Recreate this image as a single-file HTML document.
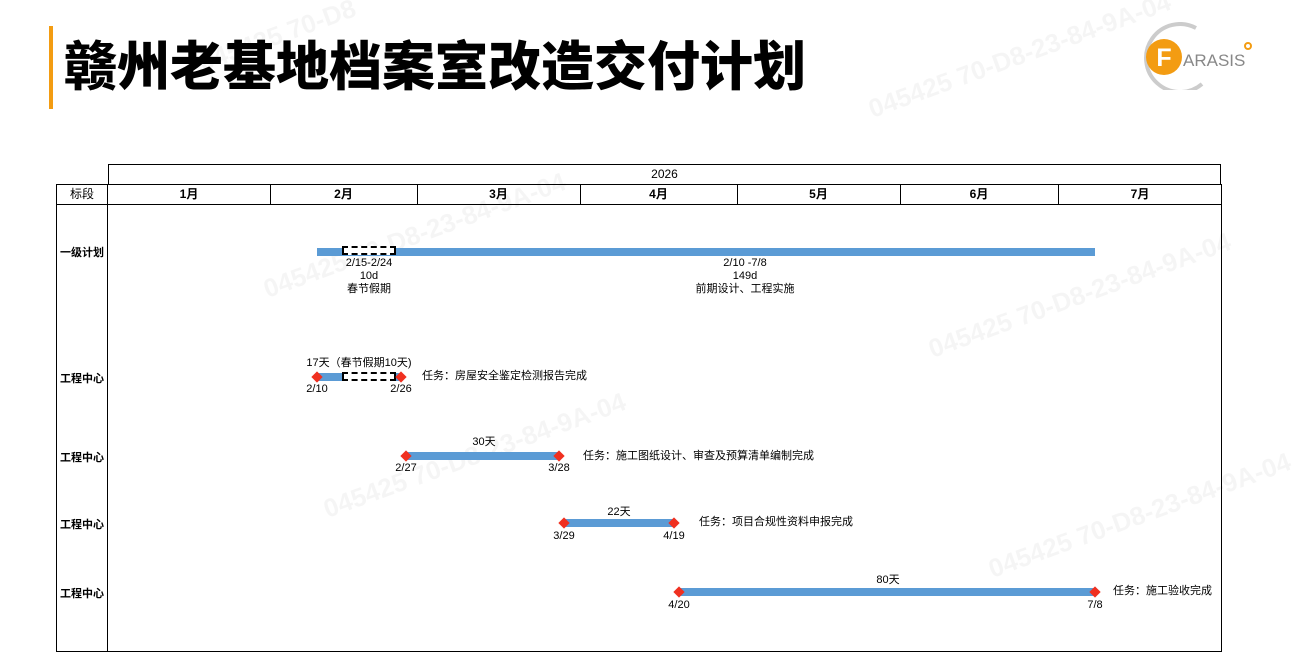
<!DOCTYPE html>
<html><head><meta charset="utf-8"><style>
body{margin:0;width:1292px;height:664px;background:#fff;position:relative;overflow:hidden;font-family:"Liberation Sans","Noto Sans CJK SC",sans-serif;color:#000}
.a{position:absolute}
.t{position:absolute;font-size:11px;white-space:nowrap;text-align:center;line-height:13px}
.l{position:absolute;font-size:11px;font-weight:bold;left:56px;width:52px;text-align:center}
.bar{position:absolute;height:8px;background:#5b9bd5}
.dash{position:absolute;height:5px;border:2px dashed #000;border-bottom-width:2px;background:#fff}
.d{position:absolute;width:8px;height:8px;background:#f03020;transform:rotate(45deg)}
.wm{position:absolute;color:rgba(0,0,0,0.04);font-size:26px;font-weight:bold;transform:rotate(-20deg);white-space:nowrap}
</style></head><body>
<div class="a" style="left:49px;top:26px;width:4px;height:83px;background:#f39c12"></div>
<div class="a" style="left:64px;top:30px;font-size:53px;font-weight:900;line-height:66px;font-family:'Noto Sans CJK SC',sans-serif;white-space:nowrap">赣州老基地档案室改造交付计划</div>
<svg class="a" style="left:1140px;top:22px" width="130" height="68">
<path d="M56 6 A34 34 0 1 0 62 62" fill="none" stroke="#ccc" stroke-width="4"/>
<circle cx="24" cy="35" r="18" fill="#f39c12"/>
<text x="24" y="44" font-size="25" font-weight="bold" fill="#fff" text-anchor="middle" font-family="Liberation Sans">F</text>
<text x="43" y="44" font-size="17" fill="#888" font-family="Liberation Sans">ARASIS</text>
<circle cx="108" cy="24" r="3" fill="none" stroke="#f39c12" stroke-width="2"/>
</svg>
<div class="wm" style="left:195px;top:20px">045425 70-D8</div>
<div class="wm" style="left:860px;top:40px">045425 70-D8-23-84-9A-04</div>
<div class="wm" style="left:255px;top:220px">045425 70-D8-23-84-9A-04</div>
<div class="wm" style="left:920px;top:280px">045425 70-D8-23-84-9A-04</div>
<div class="wm" style="left:315px;top:440px">045425 70-D8-23-84-9A-04</div>
<div class="wm" style="left:980px;top:500px">045425 70-D8-23-84-9A-04</div>
<div class="a" style="left:108px;top:164px;width:1113px;height:20px;border:1px solid #000;box-sizing:border-box;border-bottom:none;font-size:12px;text-align:center;line-height:19px">2026</div>
<div class="a" style="left:56px;top:184px;width:1166px;height:468px;border:1px solid #000;box-sizing:border-box"></div>
<div class="a" style="left:56px;top:204px;width:1166px;height:1px;background:#000"></div>
<div class="a" style="left:107px;top:184px;width:1px;height:468px;background:#000"></div>
<div class="a" style="left:56px;top:184px;width:52px;font-size:12px;text-align:center;line-height:20px">标段</div>
<div class="a" style="left:270px;top:184px;width:1px;height:20px;background:#000"></div>
<div class="a" style="left:417px;top:184px;width:1px;height:20px;background:#000"></div>
<div class="a" style="left:580px;top:184px;width:1px;height:20px;background:#000"></div>
<div class="a" style="left:737px;top:184px;width:1px;height:20px;background:#000"></div>
<div class="a" style="left:900px;top:184px;width:1px;height:20px;background:#000"></div>
<div class="a" style="left:1058px;top:184px;width:1px;height:20px;background:#000"></div>
<div class="t" style="left:108px;width:162px;top:188px;font-size:12px;font-weight:bold">1月</div>
<div class="t" style="left:270px;width:147px;top:188px;font-size:12px;font-weight:bold">2月</div>
<div class="t" style="left:417px;width:163px;top:188px;font-size:12px;font-weight:bold">3月</div>
<div class="t" style="left:580px;width:157px;top:188px;font-size:12px;font-weight:bold">4月</div>
<div class="t" style="left:737px;width:163px;top:188px;font-size:12px;font-weight:bold">5月</div>
<div class="t" style="left:900px;width:158px;top:188px;font-size:12px;font-weight:bold">6月</div>
<div class="t" style="left:1058px;width:164px;top:188px;font-size:12px;font-weight:bold">7月</div>
<div class="l" style="top:244px">一级计划</div>
<div class="l" style="top:370px">工程中心</div>
<div class="l" style="top:449px">工程中心</div>
<div class="l" style="top:516px">工程中心</div>
<div class="l" style="top:585px">工程中心</div>
<div class="bar" style="left:317px;top:248px;width:778px"></div>
<div class="dash" style="left:342px;top:246px;width:50px"></div>
<div class="t" style="left:329px;width:80px;top:257px">2/15-2/24<br>10d<br>春节假期</div>
<div class="t" style="left:685px;width:120px;top:257px">2/10 -7/8<br>149d<br>前期设计、工程实施</div>
<div class="bar" style="left:317px;top:373px;width:84px"></div>
<div class="dash" style="left:342px;top:372px;width:50px"></div>
<div class="d" style="left:313px;top:373px"></div>
<div class="d" style="left:397px;top:373px"></div>
<div class="t" style="left:299px;width:120px;top:357px">17天（春节假期10天)</div>
<div class="t" style="left:297px;width:40px;top:383px">2/10</div>
<div class="t" style="left:381px;width:40px;top:383px">2/26</div>
<div class="t" style="left:422px;top:370px;text-align:left">任务：房屋安全鉴定检测报告完成</div>
<div class="bar" style="left:406px;top:452px;width:153px"></div>
<div class="d" style="left:402px;top:452px"></div>
<div class="d" style="left:555px;top:452px"></div>
<div class="t" style="left:444px;width:80px;top:436px">30天</div>
<div class="t" style="left:386px;width:40px;top:462px">2/27</div>
<div class="t" style="left:539px;width:40px;top:462px">3/28</div>
<div class="t" style="left:583px;top:450px;text-align:left">任务：施工图纸设计、审查及预算清单编制完成</div>
<div class="bar" style="left:564px;top:519px;width:110px"></div>
<div class="d" style="left:560px;top:519px"></div>
<div class="d" style="left:670px;top:519px"></div>
<div class="t" style="left:579px;width:80px;top:506px">22天</div>
<div class="t" style="left:544px;width:40px;top:530px">3/29</div>
<div class="t" style="left:654px;width:40px;top:530px">4/19</div>
<div class="t" style="left:699px;top:516px;text-align:left">任务：项目合规性资料申报完成</div>
<div class="bar" style="left:679px;top:588px;width:416px"></div>
<div class="d" style="left:675px;top:588px"></div>
<div class="d" style="left:1091px;top:588px"></div>
<div class="t" style="left:848px;width:80px;top:574px">80天</div>
<div class="t" style="left:659px;width:40px;top:599px">4/20</div>
<div class="t" style="left:1075px;width:40px;top:599px">7/8</div>
<div class="t" style="left:1113px;top:585px;text-align:left">任务：施工验收完成</div>
</body></html>
